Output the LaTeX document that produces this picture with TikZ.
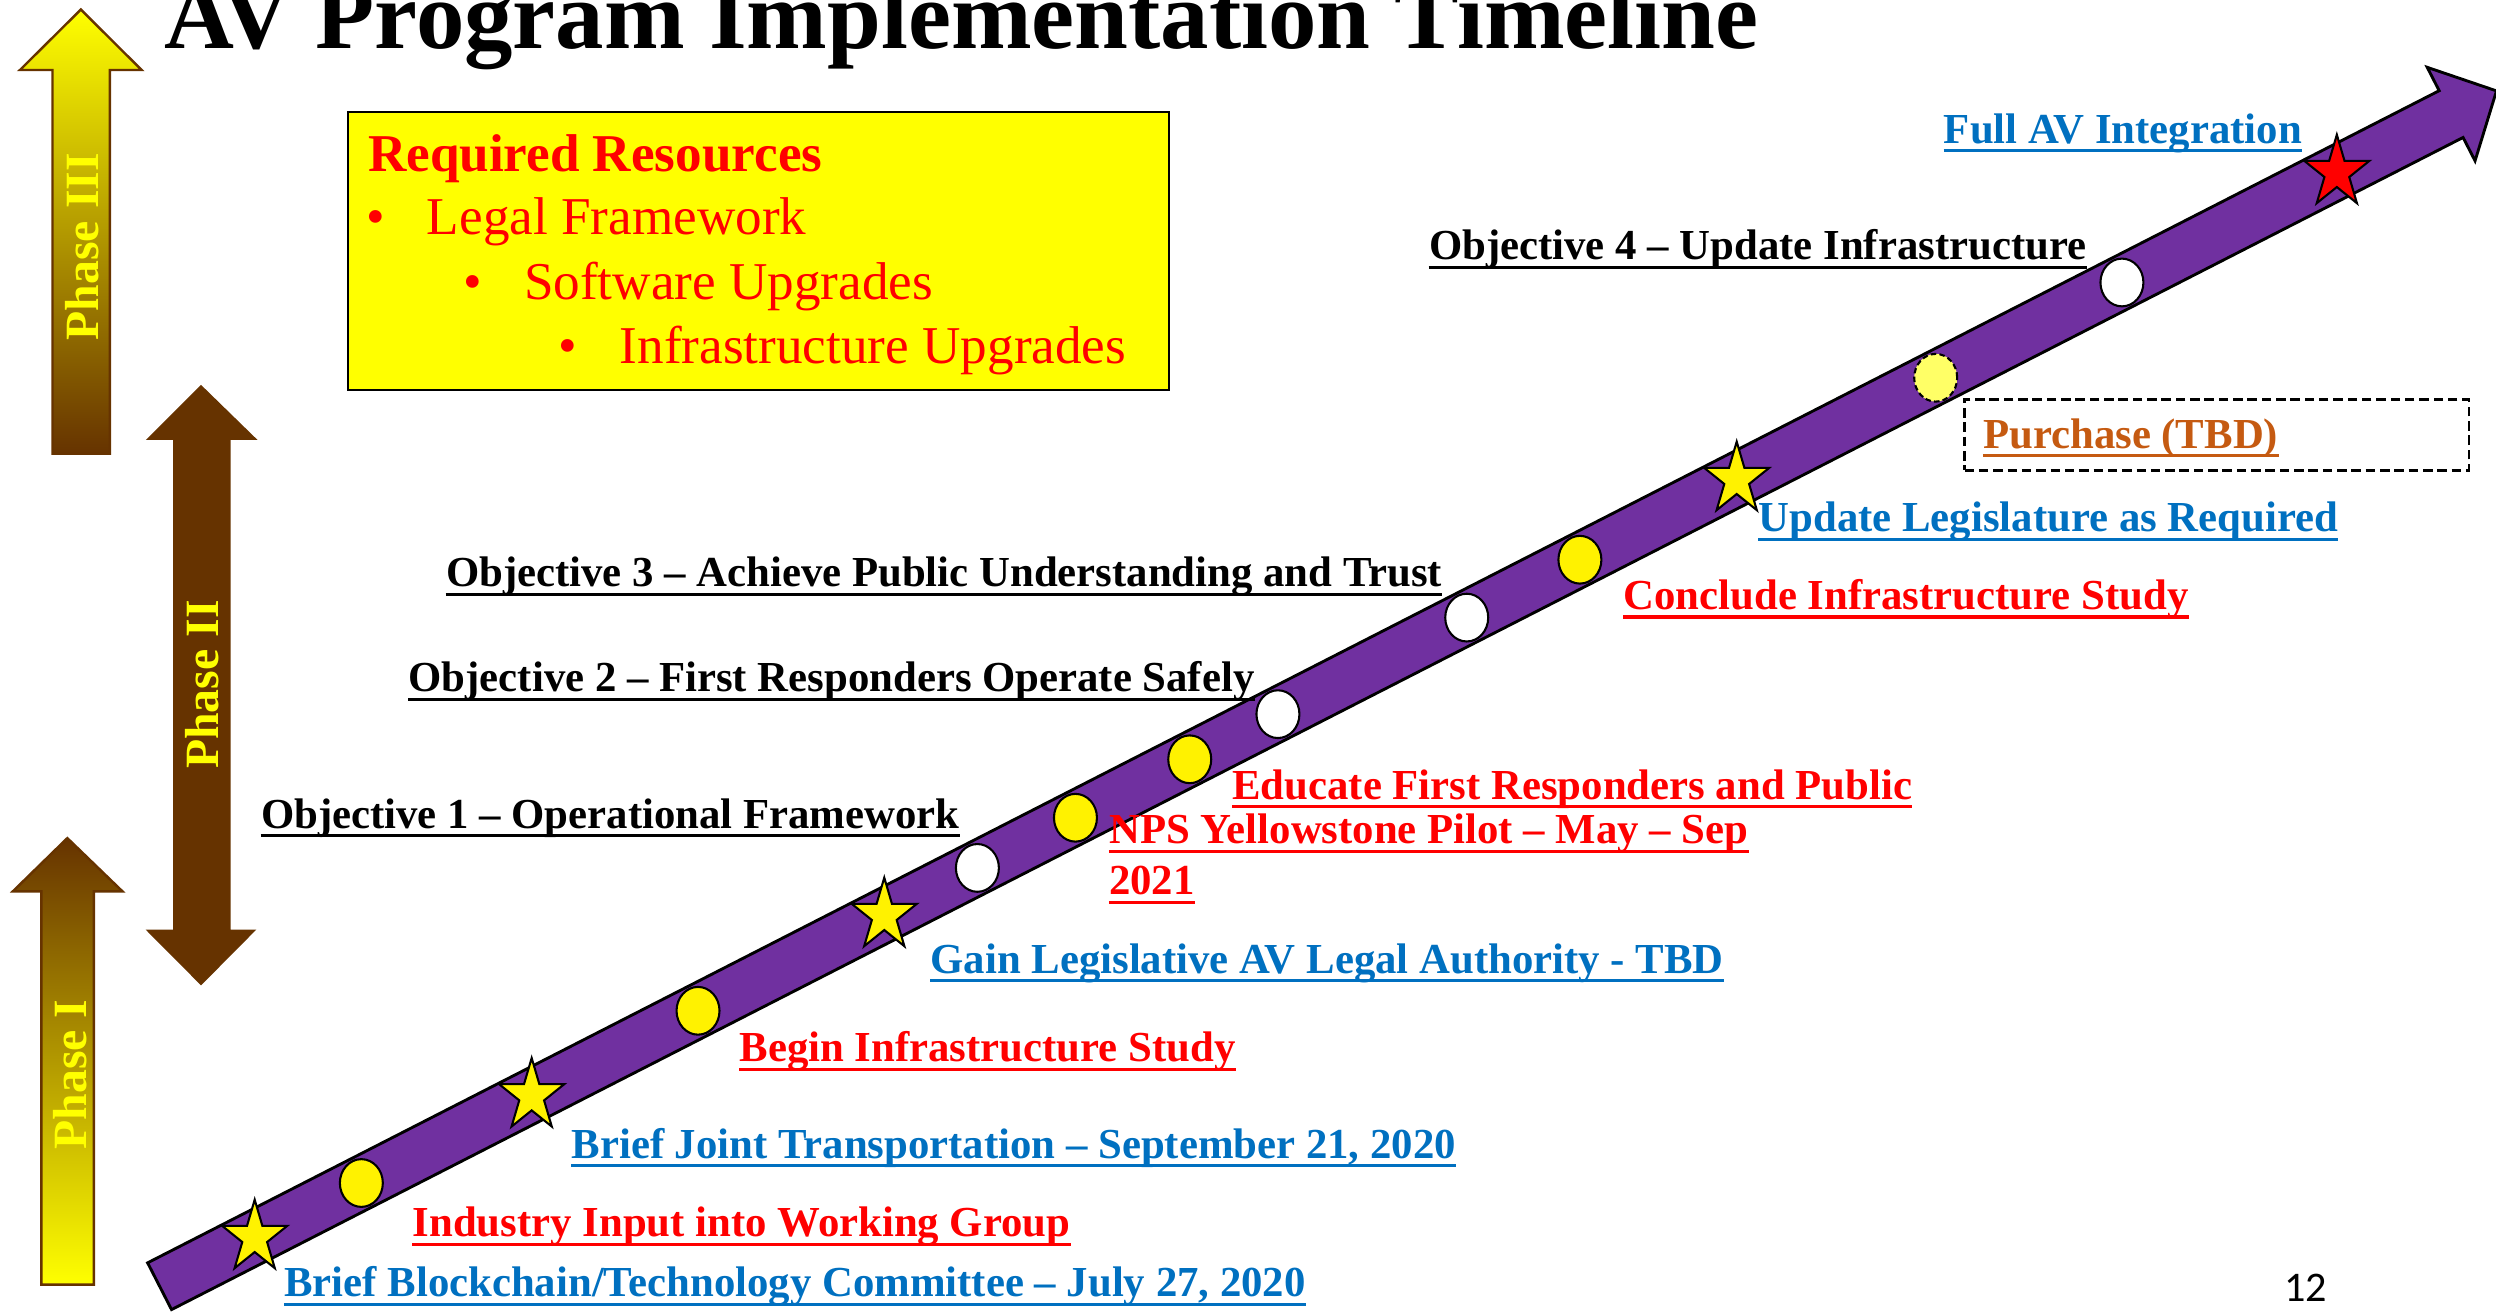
\documentclass[tikz,border=0pt]{standalone}
\usepackage{fontspec}
\setmainfont{Liberation Serif}
\newfontfamily\pagenumfont{Carlito}
\usetikzlibrary{shapes.geometric}
\definecolor{bandpurple}{HTML}{7030A0}
\definecolor{labblue}{HTML}{0070C0}
\definecolor{labred}{HTML}{FF0000}
\definecolor{laborange}{HTML}{C55A11}
\definecolor{phbrown}{HTML}{663300}
\definecolor{phyellow}{HTML}{FFFF00}
\definecolor{lightyel}{HTML}{FFFF66}
\tikzset{
  lab/.style={font=\bfseries\fontsize{26.87}{32}\selectfont, inner sep=0pt, anchor=base west},
  boxtxt/.style={font=\fontsize{33.4}{40}\selectfont, text=labred, inner sep=0pt, anchor=base west},
  phasetxt/.style={font=\bfseries\fontsize{30}{36}\selectfont, text=phyellow, rotate=90, inner sep=0pt},
  dotmark/.style={ellipse, draw=black, line width=1.3pt, minimum width=27pt, minimum height=30pt, inner sep=0pt},
  starmark/.style={draw=black, line width=1.3pt, line join=miter},
  pics/mstar/.style={code={
    \path[pic actions] (90:21.5pt and 23.8pt) -- (126:8.2pt and 9.1pt) -- (162:21.5pt and 23.8pt)
      -- (198:8.2pt and 9.1pt) -- (234:21.5pt and 23.8pt) -- (270:8.2pt and 9.1pt)
      -- (306:21.5pt and 23.8pt) -- (342:8.2pt and 9.1pt) -- (18:21.5pt and 23.8pt)
      -- (54:8.2pt and 9.1pt) -- cycle;
  }},
}
\newcommand\ulab[5]{%
  \node[lab, text=#2] (#1) at (#3,#4) {#5};
  \draw[#2, line width=2pt] ([yshift=-4.8pt]#1.base west) -- ([yshift=-4.8pt]#1.base east);
}
\begin{document}
\begin{tikzpicture}[x=1pt, y=-1pt]
\useasboundingbox (0,0) rectangle (1568,824.2);

% title
\node[font=\bfseries\fontsize{60.8}{72}\selectfont, inner sep=0pt, anchor=base west] (title) at (103,30.4) {AV Program Implementation Timeline};

% phase arrows
\path[draw=phbrown, line width=1.5pt, top color=phyellow, bottom color=phbrown]
  (50.8,6) -- (89,44) -- (69,44) -- (69,285) -- (33,285) -- (33,44) -- (12.5,44) -- cycle;
\fill[phbrown] (126.3,241.8) -- (161.8,276.4) -- (144.8,276.4) -- (144.8,584) -- (161,584)
  -- (126.3,619) -- (91.5,584) -- (108.7,584) -- (108.7,276.4) -- (91.7,276.4) -- cycle;
\path[draw=phbrown, line width=1.5pt, top color=phbrown, bottom color=phyellow]
  (42.3,526.5) -- (77,560) -- (59,560) -- (59,807) -- (26,807) -- (26,560) -- (8,560) -- cycle;
\node[phasetxt] (p3) at (51.5,155) {Phase III};
\node[phasetxt] (p2) at (127,430) {Phase II};
\node[phasetxt] (p1) at (44,675) {Phase I};

% resources box
\node[draw=black, line width=1pt, fill=phyellow, minimum width=516pt, minimum height=174.5pt, inner sep=0pt, anchor=north west] (res) at (218,70) {};
\node[boxtxt, font=\bfseries\fontsize{33.4}{40}\selectfont] (rh) at (231,108) {Required Resources};
\node[boxtxt, anchor=base] (b1) at (236,147.6) {•};
\node[boxtxt] (r1) at (268,147.6) {Legal Framework};
\node[boxtxt, anchor=base] (b2) at (296.8,188.4) {•};
\node[boxtxt] (r2) at (329,188.4) {Software Upgrades};
\node[boxtxt, anchor=base] (b3) at (356.8,228.6) {•};
\node[boxtxt] (r3) at (389.2,228.6) {Infrastructure Upgrades};

% band
\begin{scope}[shift={(100.25,808)}, rotate=27.09]
  \draw[fill=bandpurple, line width=1.8pt, line join=miter]
    (0,-16.5) -- (1617,-16.5) -- (1617,-33) -- (1649,0) -- (1617,33) -- (1617,16.5) -- (0,16.5) -- cycle;
\end{scope}

% markers
\pic[starmark, fill=yellow] (s1) at (160,777.44) {mstar};
\node[dotmark, fill=yellow] (c1) at (227,743.17) {};
\pic[starmark, fill=yellow] (s2) at (334,688.44) {mstar};
\node[dotmark, fill=yellow] (c2) at (438.5,634.98) {};
\pic[starmark, fill=yellow] (s3) at (555.5,575.14) {mstar};
\node[dotmark, fill=white] (c3) at (614,545.22) {};
\node[dotmark, fill=yellow] (c4) at (675.6,513.71) {};
\node[dotmark, fill=yellow] (c5) at (747.4,476.98) {};
\node[dotmark, fill=white] (c6) at (802.8,448.64) {};
\node[dotmark, fill=white] (c7) at (921.4,387.98) {};
\node[dotmark, fill=yellow] (c8) at (992.5,351.62) {};
\pic[starmark, fill=yellow] (s4) at (1091,301.23) {mstar};
\node[dotmark, fill=lightyel, dash pattern=on 3.5pt off 2pt] (c9) at (1216,237.3) {};
\node[dotmark, fill=white] (c10) at (1333,177.46) {};
\pic[starmark, fill=red] (s5) at (1468,108.4) {mstar};

% purchase box
\node[draw=black, dash pattern=on 6pt off 3pt, line width=1.5pt, minimum width=317pt, minimum height=44.6pt, anchor=north west, inner sep=0pt] (pbox) at (1233.4,250.2) {};

% labels
\ulab{l1}{labblue}{1221}{89.9}{Full AV Integration}
\ulab{l2}{black}{897.5}{163.2}{Objective 4 – Update Infrastructure}
\ulab{l3}{laborange}{1245.6}{281.6}{Purchase (TBD)}
\ulab{l4}{labblue}{1104.6}{334}{Update Legislature as Required}
\ulab{l5}{labred}{1019.8}{382.8}{Conclude Infrastructure Study}
\ulab{l6}{black}{280}{368.5}{Objective 3 – Achieve Public Understanding and Trust}
\ulab{l7}{black}{256.5}{434.5}{Objective 2 – First Responders Operate Safely}
\ulab{l8}{labred}{774}{502}{Educate First Responders and Public}
\ulab{l9}{black}{163.8}{520.3}{Objective 1 – Operational Framework}
\ulab{l10}{labred}{696.6}{530}{NPS Yellowstone Pilot – May – Sep}
\ulab{l10b}{labred}{696.6}{562.2}{2021}
\ulab{l11}{labblue}{584.4}{611.4}{Gain Legislative AV Legal Authority - TBD}
\ulab{l12}{labred}{464.4}{666.9}{Begin Infrastructure Study}
\ulab{l13}{labblue}{358.9}{727.6}{Brief Joint Transportation – September 21, 2020}
\ulab{l14}{labred}{259.1}{776.8}{Industry Input into Working Group}
\ulab{l15}{labblue}{178.4}{814.5}{Brief Blockchain/Technology Committee – July 27, 2020}

% page number
\node[font=\pagenumfont\fontsize{26.5}{30}\selectfont, inner sep=0pt, anchor=base west] (pg) at (1434.7,817.6) {12};
\end{tikzpicture}
\end{document}
